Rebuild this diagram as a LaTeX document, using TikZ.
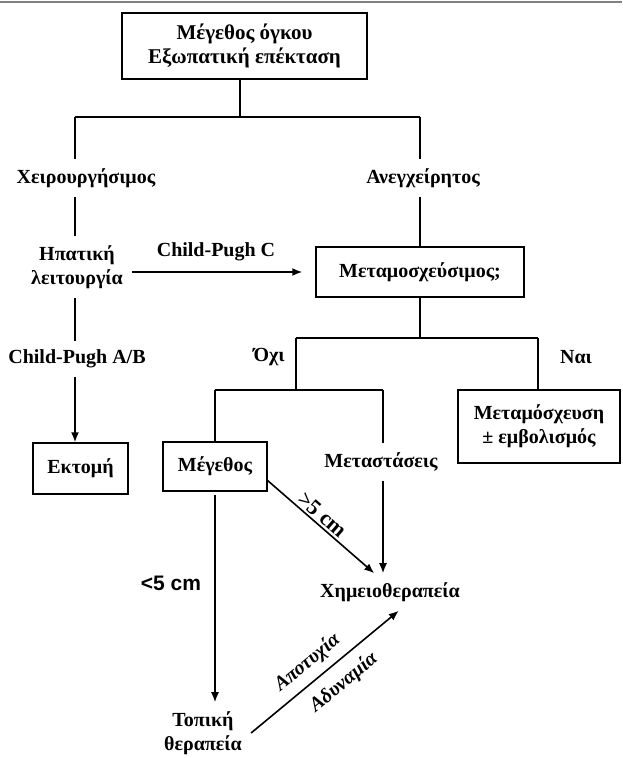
\documentclass[tikz,border=0pt]{standalone}
\usepackage{fontspec}
\setmainfont{Liberation Serif}
\newfontfamily\cmfont{Liberation Sans}
\usetikzlibrary{arrows.meta,positioning}

\tikzset{
	txt/.style={font=\bfseries\fontsize{20}{24}\selectfont, align=center, inner sep=9pt},
	lbl/.style={txt, inner sep=2pt},
	slant/.style={lbl, sloped, inner sep=3pt, font=\bfseries\itshape\fontsize{20}{24}\selectfont},
	box/.style={txt, draw, line width=1.5pt, inner sep=0pt},
	ln/.style={line width=1.6pt},
	arr/.style={ln, -{Latex[length=10pt,width=8pt]}}
}

\begin{document}
\begin{tikzpicture}[x=1pt,y=-1pt]
	\useasboundingbox (0,0) rectangle (622,758);
	\draw[gray, line width=2pt] (0,2) -- (622,2);
	% nodes
	\node[box, minimum width=245, minimum height=66, font=\bfseries\fontsize{21}{24}\selectfont] (top) at (244.5,46) {Μέγεθος όγκου\\Εξωπατική επέκταση};
	\node[txt] (surg) at (86,178) {Χειρουργήσιμος};
	\node[txt] (unres) at (423,178) {Ανεγχείρητος};
	\node[txt] (liver) at (77,267) {Ηπατική\\λειτουργία};
	\node[txt] (cpab) at (77,359) {Child-Pugh A/B};
	\node[box, minimum width=208, minimum height=50] (trans) at (420,272) {Μεταμοσχεύσιμος;};
	\node[lbl] (cpc) at (216,252) {Child-Pugh C};
	\node[lbl] (no) at (269,357) {Όχι};
	\node[lbl] (yes) at (576,357) {Ναι};
	\node[box, minimum width=95, minimum height=51] (excis) at (80.5,468.5) {Εκτομή};
	\node[box, minimum width=104, minimum height=49] (size) at (215,466.5) {Μέγεθος};
	\node[txt] (metas) at (381,462) {Μεταστάσεις};
	\node[box, minimum width=162, minimum height=73] (ltx) at (539,426.5) {Μεταμόσχευση\\± εμβολισμός};
	\node[txt] (chemo) at (390,592) {Χημειοθεραπεία};
	\node[txt] (local) at (203,733) {Τοπική\\θεραπεία};
	\node[lbl, font=\cmfont\bfseries\fontsize{21}{24}\selectfont] (lt5) at (171,583) {<5 cm};
	% junctions
	\coordinate (jA) at (240,117);
	\coordinate (jL) at (75,117);
	\coordinate (jR) at (420,117);
	\coordinate (jB) at (420,338);
	\coordinate (jN) at (296,338);
	\coordinate (jY) at (538,338);
	\coordinate (jC) at (296,390);
	\coordinate (jS) at (215,390);
	\coordinate (jM) at (383,390);
	% connectors
	\draw[ln] (jA |- top.south) -- (jA);
	\draw[ln] (jL) -- (jR);
	\draw[ln] (jL) -- (jL |- surg.north);
	\draw[ln] (jL |- surg.south) -- (jL |- liver.north);
	\draw[ln] (jL |- liver.south) -- (jL |- cpab.north);
	\draw[arr] (jL |- cpab.south) -- (jL |- excis.north);
	\draw[ln] (jR) -- (jR |- unres.north);
	\draw[ln] (jR |- unres.south) -- (trans.north);
	\draw[arr, shorten >=13pt] (liver.east |- trans.west) -- (trans.west);
	\draw[ln] (trans.south) -- (jB);
	\draw[ln] (jN) -- (jY);
	\draw[ln] (jY) -- (jY |- ltx.north);
	\draw[ln] (jN) -- (jC);
	\draw[ln] (jS) -- (jM);
	\draw[ln] (jS) -- (size.north);
	\draw[ln] (jM) -- (jM |- metas.north);
	\draw[arr] (jM |- metas.south) -- (jM |- chemo.north);
	\draw[arr] (size.-15) -- node[lbl, sloped, above, pos=0.45, font=\bfseries\fontsize{22}{24}\selectfont] {>5 cm} (chemo.130);
	\draw[arr, shorten <=3pt] (size.south) -- (size.south |- local.north);
	\draw[arr] (local.east) -- node[slant, above=5pt, pos=0.46] {Αποτυχία}
		node[slant, below=7pt, pos=0.54] {Αδυναμία} (chemo.-65);
\end{tikzpicture}
\end{document}
